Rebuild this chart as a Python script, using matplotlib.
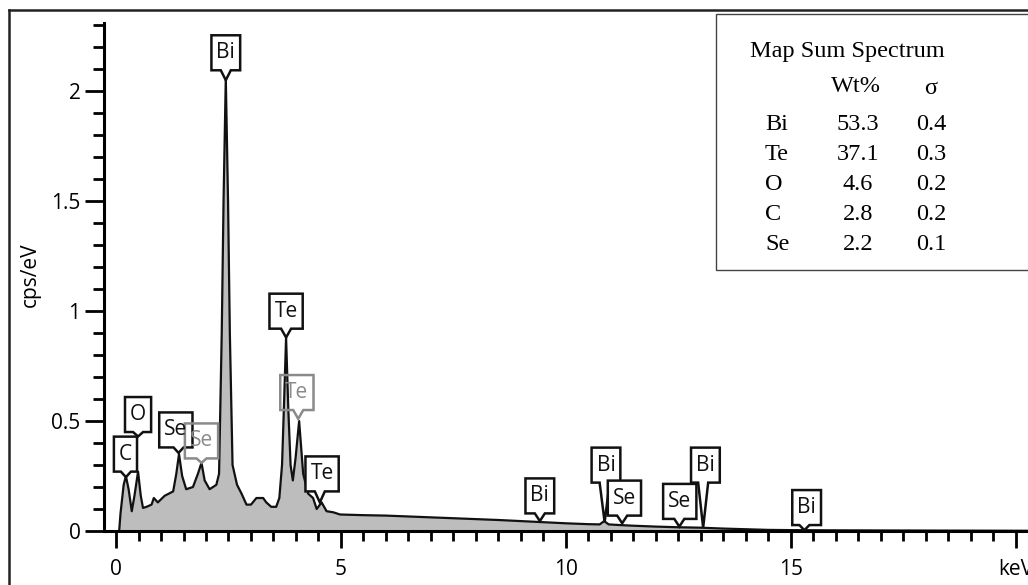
import matplotlib
matplotlib.use('Agg')
import matplotlib.pyplot as plt
from matplotlib.patches import Polygon, Rectangle
from matplotlib.lines import Line2D
from matplotlib.ticker import MultipleLocator

# ── spectrum ─────────────────────────────────────────────
energy = [0.07, 0.10, 0.17, 0.22, 0.28, 0.35, 0.41, 0.49, 0.55, 0.60, 0.68,
          0.79, 0.84, 0.93, 1.08, 1.27, 1.34, 1.40, 1.47, 1.56, 1.71, 1.82,
          1.90, 1.97, 2.08, 2.23, 2.29, 2.35, 2.39, 2.44, 2.49, 2.53, 2.59,
          2.69, 2.79, 2.90, 3.00, 3.12, 3.27, 3.34, 3.45, 3.56, 3.63, 3.69,
          3.73, 3.78, 3.83, 3.88, 3.93, 3.99, 4.07, 4.16, 4.27, 4.38, 4.46,
          4.57, 4.68, 4.83, 4.98, 5.5, 6.0, 6.5, 7.0, 7.5, 8.0, 8.5, 9.0, 9.5,
          10.0, 10.5, 10.75, 10.85, 10.95, 11.2, 11.5, 12.0, 12.5, 13.0, 13.5,
          14.0, 14.5, 15.0, 16.0, 18.0, 20.3]
cps = [0.0, 0.08, 0.21, 0.25, 0.19, 0.09, 0.16, 0.27, 0.16, 0.105, 0.11,
       0.12, 0.15, 0.13, 0.16, 0.18, 0.26, 0.35, 0.25, 0.19, 0.20, 0.26,
       0.31, 0.23, 0.19, 0.21, 0.26, 0.9, 1.5, 2.06, 1.5, 0.9, 0.30,
       0.21, 0.17, 0.12, 0.12, 0.15, 0.15, 0.13, 0.11, 0.11, 0.15, 0.30,
       0.55, 0.88, 0.55, 0.30, 0.23, 0.33, 0.50, 0.26, 0.17, 0.15, 0.10,
       0.13, 0.09, 0.085, 0.075, 0.072, 0.07, 0.066, 0.062, 0.058, 0.054, 0.05, 0.045, 0.04,
       0.035, 0.031, 0.03, 0.045, 0.03, 0.027, 0.024, 0.02, 0.017, 0.015, 0.011,
       0.008, 0.005, 0.004, 0.003, 0.002, 0.001]

# peak labels: element, tip energy, tip height, box centre energy, box bottom, faded
lbl_text = ['C', 'O', 'Se', 'Se', 'Bi', 'Te', 'Te', 'Te', 'Bi', 'Bi', 'Se', 'Se', 'Bi', 'Bi']
lbl_tip_x = [0.22, 0.49, 1.39, 1.90, 2.44, 3.78, 4.05, 4.53, 9.42, 10.86, 11.25, 12.52, 13.05, 15.30]
lbl_tip_y = [0.245, 0.43, 0.355, 0.31, 2.05, 0.88, 0.51, 0.13, 0.045, 0.04, 0.035, 0.02, 0.015, 0.004]
lbl_box_x = [0.21, 0.49, 1.33, 1.90, 2.44, 3.78, 4.02, 4.58, 9.42, 10.89, 11.30, 12.53, 13.10, 15.35]
lbl_box_y = [0.27, 0.45, 0.38, 0.33, 2.095, 0.92, 0.55, 0.18, 0.08, 0.22, 0.07, 0.055, 0.22, 0.027]
lbl_faded = [False, False, False, True, False, False, True, False, False, False, False, False, False, False]

xticks = [0, 5, 10, 15, 20]
xtick_labels = ['0', '5', '10', '15', 'keV']
yticks = [0, 0.5, 1, 1.5, 2]
ytick_labels = ['0', '0.5', '1', '1.5', '2']

tab_elem = ['Bi', 'Te', 'O', 'C', 'Se']
tab_wt = ['53.3', '37.1', '4.6', '2.8', '2.2']
tab_sigma = ['0.4', '0.3', '0.2', '0.2', '0.1']

W, H = 1028, 585
SANS = ['Open Sans', 'DejaVu Sans']
SERIF = ['Liberation Serif', 'DejaVu Serif']

fig = plt.figure(figsize=(W / 100, H / 100), dpi=100)
ax = fig.add_axes([104 / W, 1 - 531 / H, (W - 104) / W, (531 - 23) / H])

ax.fill_between(energy, cps, 0, color='#bdbdbd', lw=0, zorder=1)
ax.plot(energy, cps, color='#111111', lw=1.6, zorder=2)

ax.set_xlim(-0.267, 20.27)
ax.set_ylim(0, 2.31)
for s in ['top', 'right']:
    ax.spines[s].set_visible(False)
for s in ['left', 'bottom']:
    ax.spines[s].set_linewidth(2.2)

ax.set_xticks(xticks)
ax.set_xticklabels(xtick_labels, family=SANS, fontsize=15)
ax.set_yticks(yticks)
ax.set_yticklabels(ytick_labels, family=SANS, fontsize=15)
ax.xaxis.set_minor_locator(MultipleLocator(0.5))
ax.yaxis.set_minor_locator(MultipleLocator(0.1))
ax.tick_params(axis='x', which='major', length=12, width=2, pad=8)
ax.tick_params(axis='x', which='minor', length=7, width=2)
ax.tick_params(axis='y', which='major', length=14, width=2, pad=3)
ax.tick_params(axis='y', which='minor', length=8, width=2)

fig.text(30 / W, 1 - 275 / H, 'cps/eV', rotation=90, ha='center', va='center',
         family=SANS, fontsize=15)

# pixel -> data scale
x0, x1 = ax.get_xlim()
y0, y1 = ax.get_ylim()
kx = (x1 - x0) / (W - 104)
ky = (y1 - y0) / (531 - 23)
renderer = fig.canvas.get_renderer()

box_h = 35 * ky
for txt, tx, ty, bx, by, faded in zip(lbl_text, lbl_tip_x, lbl_tip_y,
                                      lbl_box_x, lbl_box_y, lbl_faded):
    col = '#8a8a8a' if faded else '#111111'
    t = ax.text(bx, by + box_h / 2, txt, ha='center', va='center', family=SANS,
                fontsize=15, color=col, zorder=5)
    tw = t.get_window_extent(renderer=renderer).width
    w = (tw + 10) * kx
    hw = 5 * kx
    px = min(max(tx, bx - w / 2 + hw), bx + w / 2 - hw)
    pts = [(bx - w / 2, by + box_h), (bx + w / 2, by + box_h), (bx + w / 2, by),
           (px + hw, by), (tx, ty), (px - hw, by), (bx - w / 2, by)]
    ax.add_patch(Polygon(pts, closed=True, facecolor='white',
                         edgecolor=col, lw=1.8, zorder=4, fill=not faded))

# composition table
fig.patches.append(Rectangle((716 / W, 1 - 270 / H), (W - 716 + 20) / W, (270 - 14) / H,
                             transform=fig.transFigure, facecolor='white',
                             edgecolor='#444444', lw=1.0))
TFS = 17.5
fig.text(750 / W, 1 - 52 / H, 'Map Sum Spectrum', family=SERIF, fontsize=TFS,
         ha='left', va='center')
fig.text(856 / W, 1 - 87 / H, 'Wt%', family=SERIF, fontsize=TFS, ha='center', va='center')
fig.text(931 / W, 1 - 89 / H, 'σ', family=SERIF, fontsize=TFS, ha='center', va='center')
for i, (el, wt, sg) in enumerate(zip(tab_elem, tab_wt, tab_sigma)):
    yy = 1 - (124 + 30 * i) / H
    fig.text(765 / W, yy, el, family=SERIF, fontsize=TFS, ha='left', va='center')
    fig.text(858 / W, yy, wt, family=SERIF, fontsize=TFS, ha='center', va='center')
    fig.text(931 / W, yy, sg, family=SERIF, fontsize=TFS, ha='center', va='center')

# outer frame (left and top edges visible)
fig.lines.append(Line2D([9 / W, 9 / W], [0, 1 - 10 / H], transform=fig.transFigure,
                        color='#222222', lw=1.8))
fig.lines.append(Line2D([9 / W, 1], [1 - 10 / H, 1 - 10 / H], transform=fig.transFigure,
                        color='#222222', lw=1.8))

fig.savefig('out.png', dpi=100)
